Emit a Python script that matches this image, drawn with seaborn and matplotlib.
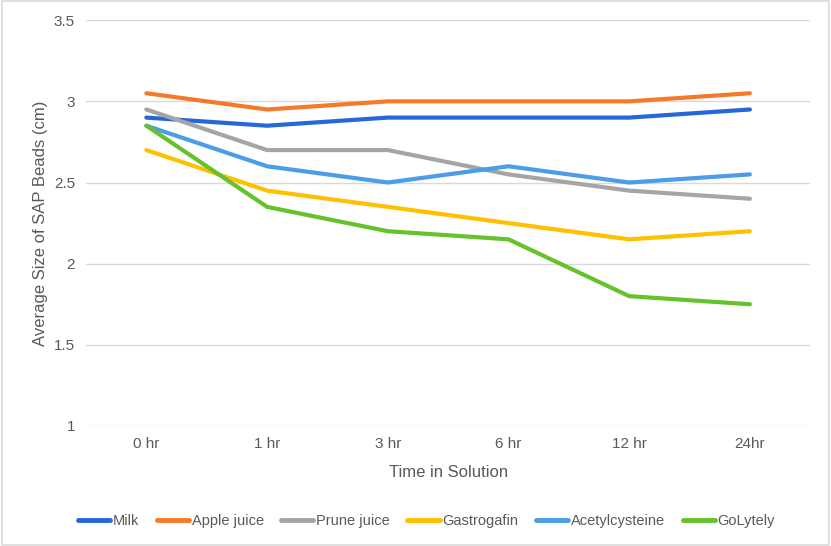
import pandas as pd
import seaborn as sns
import matplotlib.pyplot as plt
from matplotlib.patches import Rectangle

# Data
times = ['0 hr', '1 hr', '3 hr', '6 hr', '12 hr', '24hr']
milk = [2.9, 2.85, 2.9, 2.9, 2.9, 2.95]
apple_juice = [3.05, 2.95, 3.0, 3.0, 3.0, 3.05]
prune_juice = [2.95, 2.7, 2.7, 2.55, 2.45, 2.4]
gastrogafin = [2.7, 2.45, 2.35, 2.25, 2.15, 2.2]
acetylcysteine = [2.85, 2.6, 2.5, 2.6, 2.5, 2.55]
golytely = [2.85, 2.35, 2.2, 2.15, 1.8, 1.75]

series = {
    'Milk': milk,
    'Apple juice': apple_juice,
    'Prune juice': prune_juice,
    'Gastrogafin': gastrogafin,
    'Acetylcysteine': acetylcysteine,
    'GoLytely': golytely,
}
colors = ['#2566D8', '#F57A28', '#A5A5A5', '#FFC000', '#4A9DE6', '#66C22A']

rows = []
for name, vals in series.items():
    for i, v in enumerate(vals):
        rows.append({'Time': times[i], 'pos': i, 'Solution': name, 'Size': v})
df = pd.DataFrame(rows)

sns.set_style('white')
plt.rcParams['font.family'] = ['Liberation Sans', 'DejaVu Sans']
text_color = '#595959'

fig = plt.figure(figsize=(8.31, 5.46), dpi=100)
ax = fig.add_axes([0.1035, 0.2198, 0.8715, 0.7432])

sns.lineplot(data=df, x='pos', y='Size', hue='Solution', palette=colors,
             linewidth=3, ax=ax, legend=True, solid_capstyle='round')

ax.set_xlim(-0.5, 5.5)
ax.set_ylim(1, 3.5)
ax.set_yticks([1, 1.5, 2, 2.5, 3, 3.5])
ax.set_yticklabels(['1', '1.5', '2', '2.5', '3', '3.5'])
ax.set_xticks(range(len(times)))
ax.set_xticklabels(times)
ax.yaxis.grid(True, color='#D9D9D9', linewidth=1)
ax.set_axisbelow(True)
for s in ax.spines.values():
    s.set_visible(False)
ax.tick_params(axis='both', length=0, colors=text_color, labelsize=11, pad=8)
ax.set_xlabel('Time in Solution', color=text_color, fontsize=12, labelpad=10)
ax.set_ylabel('Average Size of SAP Beads (cm)', color=text_color, fontsize=12, labelpad=4)

handles, labels = ax.get_legend_handles_labels()
leg = ax.legend(handles, labels, loc='center', bbox_to_anchor=(0.47, -0.234), ncol=6,
                frameon=False, fontsize=10.5, handlelength=2.2, handletextpad=0.2,
                columnspacing=1.2)
for t in leg.get_texts():
    t.set_color(text_color)
for h in leg.get_lines():
    h.set_linewidth(3.5)

fig.patches.append(Rectangle((0.002, 0.002), 0.996, 0.996, transform=fig.transFigure,
                             fill=False, edgecolor='#D9D9D9', linewidth=1.2))

plt.savefig('out.png', dpi=100)
plt.close()
